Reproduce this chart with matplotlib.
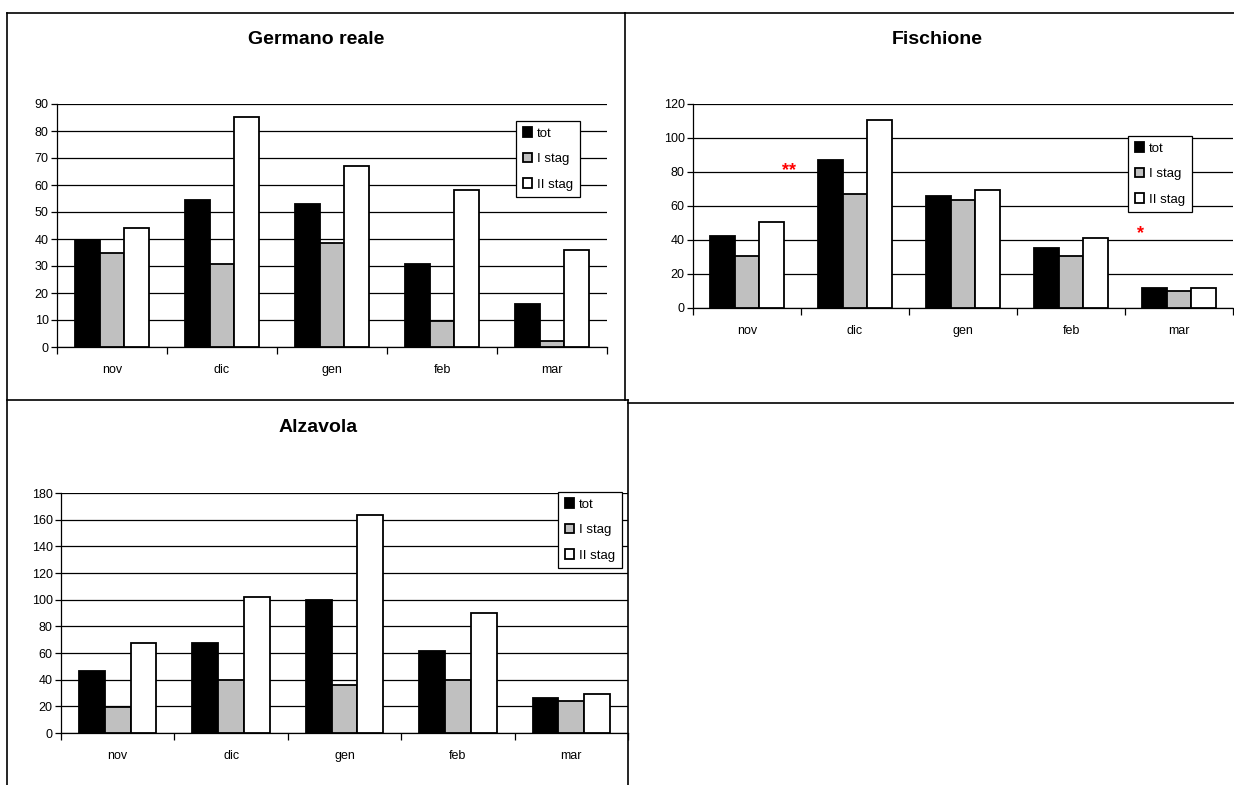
import matplotlib
matplotlib.use("Agg")
import matplotlib.pyplot as plt
import numpy as np
from matplotlib.lines import Line2D

plt.rcParams["font.family"] = ["Liberation Sans", "DejaVu Sans"]

W, H = 1234, 785

months = ["nov", "dic", "gen", "feb", "mar"]
series = ["tot", "I stag", "II stag"]
colors = ["#000000", "#C0C0C0", "#FFFFFF"]

germano_tot = [39.6, 54.5, 53, 30.7, 15.8]
germano_i = [35, 30.6, 38.7, 9.7, 2.4]
germano_ii = [44, 85, 67, 58, 35.8]

fischione_tot = [42.5, 87, 66, 35.5, 12]
fischione_i = [30.6, 67, 63.3, 30.6, 10.2]
fischione_ii = [50.6, 110.4, 69.2, 41, 11.8]

alzavola_tot = [46.8, 67.8, 99.5, 61.8, 26]
alzavola_i = [19.5, 39.5, 36, 39.5, 24.3]
alzavola_ii = [67.5, 102, 163.8, 90, 29]

# stars on Fischione: (x in category units, y in data units, text)
stars = [(0.39, 81, "**"), (3.64, 44, "*")]

fig = plt.figure(figsize=(W / 100, H / 100), dpi=100)


def px_rect(l, t, r, b):
    return [l / W, 1 - b / H, (r - l) / W, (b - t) / H]


def fig_line(x0, y0, x1, y1):
    fig.add_artist(Line2D([x0 / W, x1 / W], [1 - y0 / H, 1 - y1 / H],
                          transform=fig.transFigure, color="black", lw=1.2))


# frames around the panels
fig_line(7, 13, 625, 13)
fig_line(7, 13, 7, 785)
fig_line(625, 13, 625, 400)
fig_line(7, 400, 628, 400)
fig_line(628, 400, 628, 785)
fig_line(625, 13, 1234, 13)
fig_line(628, 403, 1234, 403)


def panel(rect, title, title_xy, vals, ymax, ystep, legend_box):
    ax = fig.add_axes(px_rect(*rect))
    x = np.arange(len(months))
    w = 0.227
    for k, (v, c) in enumerate(zip(vals, colors)):
        ax.bar(x + (k - 1) * w, v, w, color=c, edgecolor="black", lw=1.3,
               label=series[k], zorder=3)
    ax.set_xlim(-0.5, 4.5)
    ax.set_ylim(0, ymax)
    ax.set_yticks(np.arange(0, ymax + 1, ystep))
    ax.yaxis.grid(True, color="black", lw=0.9, zorder=0)
    ax.set_axisbelow(True)
    ax.set_xticks(x)
    ax.set_xticklabels(months)
    ax.set_xticks(np.arange(-0.5, 5, 1), minor=True)
    ax.tick_params(axis="x", which="major", length=0, pad=12, labelsize=9)
    ax.tick_params(axis="x", which="minor", length=5, width=0.9, direction="out")
    ax.tick_params(axis="y", length=4, width=0.9, pad=2, labelsize=9)
    for s in ["top", "right"]:
        ax.spines[s].set_visible(False)
    for s in ["left", "bottom"]:
        ax.spines[s].set_linewidth(0.9)
    ax.patch.set_alpha(0)
    fig.text(title_xy[0] / W, 1 - title_xy[1] / H, title, ha="center",
             va="center", fontsize=14, fontweight="bold")
    l, t, r, b = legend_box
    leg = ax.legend(loc="center",
                    bbox_to_anchor=(l / W, 1 - b / H, (r - l) / W, (b - t) / H),
                    bbox_transform=fig.transFigure,
                    fontsize=9.5, frameon=True, fancybox=False, framealpha=1,
                    handlelength=0.7, handleheight=0.7, handletextpad=0.4,
                    labelspacing=1.0, borderpad=0.5, borderaxespad=0)
    leg.get_frame().set_edgecolor("black")
    leg.get_frame().set_linewidth(0.9)
    leg.set_zorder(10)
    return ax


panel((57, 104, 607, 347), "Germano reale", (316, 40),
      [germano_tot, germano_i, germano_ii], 90, 10, (514, 120, 582, 198))
ax2 = panel((693, 104, 1233, 308), "Fischione", (937, 39),
            [fischione_tot, fischione_i, fischione_ii], 120, 20,
            (1127, 139, 1193, 209))
panel((61, 493, 628, 733), "Alzavola", (318, 428),
      [alzavola_tot, alzavola_i, alzavola_ii], 180, 20, (557, 491, 623, 569))

for sx, sy, s in stars:
    ax2.text(sx, sy, s, color="red", fontsize=13, fontweight="bold",
             ha="center", va="center", zorder=5)

fig.savefig("out.png", dpi=100)
